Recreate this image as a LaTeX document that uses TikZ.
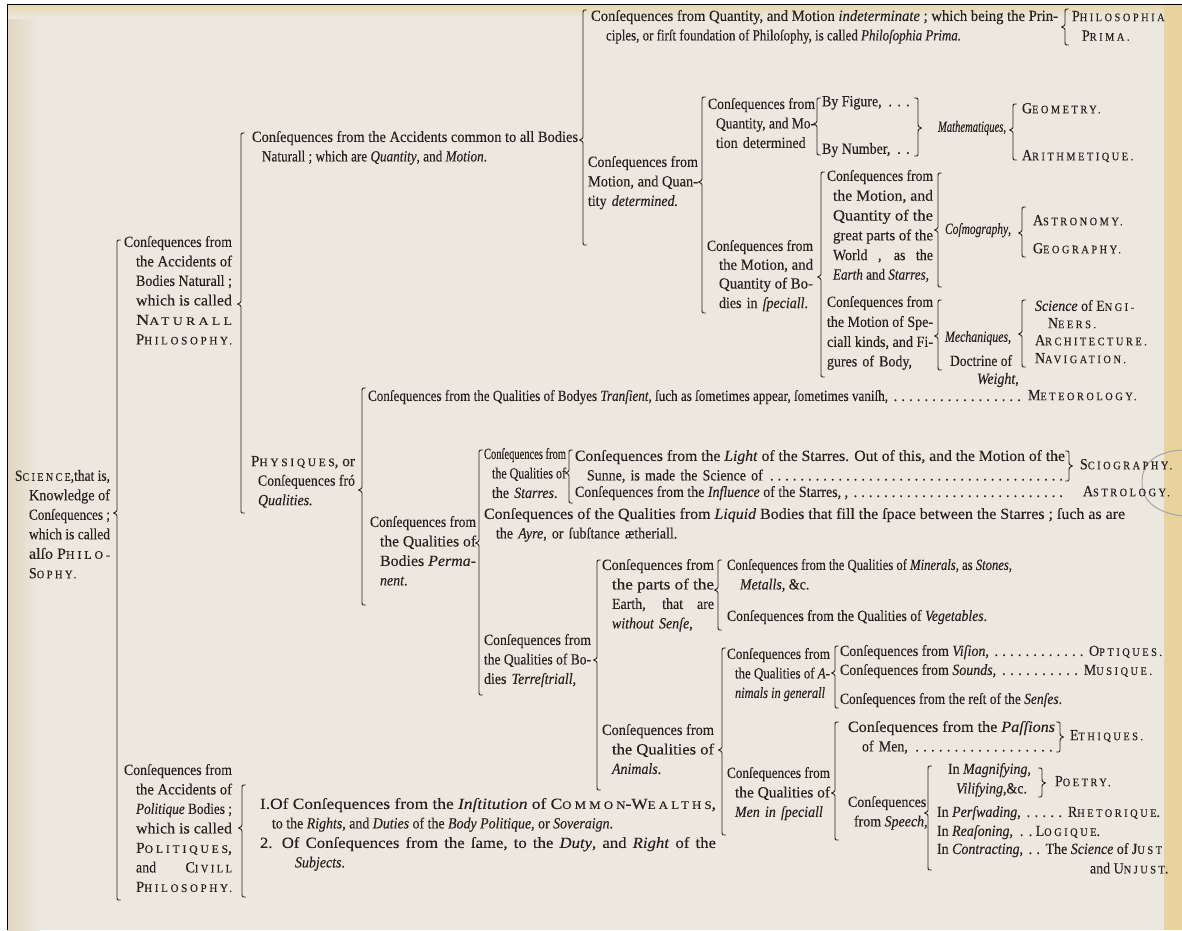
\documentclass[tikz,border=0pt]{standalone}
\usepackage{fontspec}
\setmainfont{Liberation Serif}[FakeStretch=0.9,FakeBold=0.2]
\usepackage{graphicx}
\definecolor{ink}{HTML}{26211D}
\definecolor{paper}{HTML}{ECE8E0}
\definecolor{card}{HTML}{E8D29E}
\definecolor{edge}{HTML}{E1D6C2}
\newcommand\body{\fontsize{15.5}{19.5}\selectfont}
\newcommand\sca[2]{#1{\fontsize{11.5}{12}\selectfont\addfontfeatures{LetterSpace=22}#2}}
\newsavebox\lnbox
\newdimen\lnlim
\newcommand\fitto[2]{\sbox\lnbox{\spaceskip=0pt\xspaceskip=0pt #2}\lnlim=#1\relax\lnlim=0.8\lnlim\ifdim\wd\lnbox>\lnlim\resizebox{#1}{\height}{\usebox\lnbox}\else\makebox[#1][s]{\spaceskip=0pt\xspaceskip=0pt #2}\fi}
\newcommand\F[1]{\fitto{\hsize}{#1}}
\newcommand\RJ[3]{\hspace*{#1}\fitto{#2}{#3}}
\newcommand\RW[3]{\hspace*{#1}\resizebox{#2}{\height}{#3}}
\newcommand\Lf[2]{\hspace*{#1}\mbox{#2}}
\newcommand\W[2]{\resizebox{#1}{\height}{#2}}
\newcommand\dts{\xleaders\hbox to 7.5pt{\hss.\hss}\hfill}
\newcommand\LB[4]{\draw[brc] (#1+3.5,#2) .. controls (#1,#2) .. (#1,#2+4) -- (#1,#3-5) .. controls (#1,#3-1.5) .. (#1-3.5,#3) .. controls (#1,#3+1.5) .. (#1,#3+5) -- (#1,#4-4) .. controls (#1,#4) .. (#1+3.5,#4);}
\newcommand\RB[4]{\draw[brc] (#1-3.5,#2) .. controls (#1,#2) .. (#1,#2+4) -- (#1,#3-5) .. controls (#1,#3-1.5) .. (#1+3.5,#3) .. controls (#1,#3+1.5) .. (#1,#3+5) -- (#1,#4-4) .. controls (#1,#4) .. (#1-3.5,#4);}
\tikzset{
  tx/.style={anchor=north west, inner sep=0pt, outer sep=0pt, text=ink, font=\body, align=left},
  bx/.style={tx, text width=#1},
  brc/.style={draw=ink, line width=0.9pt, line cap=round, line join=round},
}
\begin{document}
\begin{tikzpicture}[x=1pt,y=-1pt]
\useasboundingbox (0,0) rectangle (1182,930);
% paper
\fill[white] (0,0) rectangle (1182,930);
\fill[paper] (8,4) rectangle (1182,930);
\shade[left color=edge, right color=paper] (8,4) rectangle (40,930);
\shade[top color=card!80!paper, bottom color=paper] (8,4) rectangle (1182,18);
\fill[card] (1164,4) rectangle (1182,930);
\draw[gray!70, line width=1pt] (1182,450) .. controls (1154,452) and (1142,464) .. (1142,482) .. controls (1142,500) and (1154,512) .. (1182,516);
\draw[black, line width=1.6pt] (7.5,930) -- (7.5,4.5) -- (1182,4.5);

% ---------- root
\node[bx=95pt] (root) at (15,470) {\F{\sca{S}{CIENCE},that is,}\\ \RJ{14pt}{81pt}{Knowledge of}\\ \RJ{14pt}{81pt}{Conſequences ;}\\ \RJ{14pt}{81pt}{which is called}\\ \RJ{14pt}{81pt}{alſo \sca{P}{HILO-}}\\ \Lf{14pt}{\sca{S}{OPHY.}}};
\LB{117}{240}{513}{900}

% ---------- natural philosophy
\node[bx=108pt] (nat) at (124,236) {\F{Conſequences from}\\ \RJ{12pt}{96pt}{the Accidents of}\\ \RJ{12pt}{96pt}{Bodies Naturall ;}\\ \RJ{12pt}{96pt}{which is called}\\ \RW{12pt}{96pt}{\sca{N}{ATURALL}}\\ \RW{12pt}{96pt}{\sca{P}{HILOSOPHY.}}};
\LB{241}{133}{304}{513}

\node[bx=326pt] (acc) at (252,131) {\F{Conſequences from the Accidents common to all Bodies}\\ \RJ{10pt}{225pt}{Naturall ; which are \textit{Quantity}, and \textit{Motion}.}};
\LB{583}{10}{140}{245}

\node[bx=467pt] (indet) at (591,10) {\F{Conſequences from Quantity, and Motion \textit{indeterminate} ; which being the Prin-}\\ \RJ{15pt}{355pt}{ciples, or firſt foundation of Philoſophy, is called \textit{Philoſophia Prima.}}};
\LB{1065}{9}{27}{45}
\node[tx] (prima) at (1072,11) {\sca{P}{HILOSOPHIA}\\ \hspace*{10pt}\sca{P}{RIMA.}};

\node[bx=110pt] (det) at (588,156) {\F{Conſequences from}\\ \RJ{0pt}{110pt}{Motion, and Quan-}\\ \Lf{0pt}{tity \textit{determined.}}};
\LB{702}{97}{182}{313}

\node[bx=107pt] (math) at (708,98) {\F{Conſequences from}\\ \RJ{8pt}{99pt}{Quantity, and Mo-}\\ \Lf{8pt}{tion determined}};
\LB{817}{98}{124}{155}
\node[tx] (fig) at (822,96) {\makebox[91pt][s]{By Figure,\ \dts}};
\node[tx] (num) at (822,143) {\makebox[91pt][s]{By Number,\ \dts}};
\RB{918}{98}{128}{156}
\node[tx] (mathq) at (938,121) {\W{68pt}{\textit{Mathematiques},}};
\LB{1013}{104}{130}{160}
\node[tx] (geom) at (1022,103) {\sca{G}{EOMETRY.}};
\node[tx] (arith) at (1022,150) {\sca{A}{RITHMETIQUE.}};

\node[bx=106pt] (spec) at (707,240) {\fontsize{15.5}{18.8}\selectfont\F{Conſequences from}\\ \RJ{12pt}{94pt}{the Motion, and}\\ \RJ{12pt}{94pt}{Quantity of Bo-}\\ \Lf{12pt}{dies in \textit{ſpeciall}.}};
\LB{821}{172}{277}{377}

\node[bx=106pt] (cosmo) at (827,170) {\fontsize{15.5}{19.8}\selectfont\F{Conſequences from}\\ \RJ{6pt}{100pt}{the Motion, and}\\ \RJ{6pt}{100pt}{Quantity of the}\\ \RJ{6pt}{100pt}{great parts of the}\\ \RJ{6pt}{100pt}{World , as the}\\ \RJ{6pt}{96pt}{\textit{Earth} and \textit{Starres},}};
\LB{938}{173}{230}{287}
\node[tx] (cosmg) at (945,223) {\W{66pt}{\textit{Coſmography},}};
\LB{1022}{207}{233}{257}
\node[tx] (astron) at (1033,215) {\sca{A}{STRONOMY.}};
\node[tx] (geog) at (1033,243) {\sca{G}{EOGRAPHY.}};

\node[bx=106pt] (mech) at (827,296) {\fontsize{15.5}{20}\selectfont\F{Conſequences from}\\ \RJ{0pt}{106pt}{the Motion of Spe-}\\ \RJ{0pt}{106pt}{ciall kinds, and Fi-}\\ \Lf{0pt}{gures of Body,}};
\LB{938}{300}{336}{370}
\node[tx] (mechq) at (945,331) {\W{66pt}{\textit{Mechaniques},}};
\node[tx] (doct) at (950,355) {\W{62pt}{Doctrine of}};
\node[tx] (weight) at (977,373) {\textit{Weight},};
\LB{1022}{300}{334}{367}
\node[tx] (engi) at (1035,300) {\textit{Science} of \sca{E}{NGI-}};
\node[tx] (neers) at (1048,318) {\sca{N}{EERS.}};
\node[tx] (archi) at (1035,335) {\sca{A}{RCHITECTURE.}};
\node[tx] (navig) at (1035,353) {\sca{N}{AVIGATION.}};

% ---------- physiques
\node[bx=104pt] (phys) at (251,456) {\F{\sca{P}{HYSIQUES}, or}\\ \RJ{7pt}{97pt}{Conſequences fró}\\ \Lf{7pt}{\textit{Qualities.}}};
\LB{362}{388}{490}{605}

\node[tx] (trans) at (368,390) {\W{520pt}{Conſequences from the Qualities of Bodyes \textit{Tranſient}, ſuch as ſometimes appear, ſometimes vaniſh,}\makebox[135pt][s]{\ \dts}};
\node[tx] (meteor) at (1028,390) {\sca{M}{ETEOROLOGY.}};

\node[bx=106pt] (perm) at (370,516) {\F{Conſequences from}\\ \RJ{10pt}{96pt}{the Qualities of}\\ \RJ{10pt}{96pt}{Bodies \textit{Perma-}}\\ \Lf{10pt}{\textit{nent}.}};
\LB{479}{450}{543}{695}

\node[bx=82pt] (starres) at (484,448) {\F{Conſequences from}\\ \RJ{8pt}{74pt}{the Qualities of}\\ \Lf{8pt}{the \textit{Starres}.}};
\LB{569}{450}{473}{503}
\node[bx=490pt] (light) at (575,450) {\F{Conſequences from the \textit{Light} of the Starres. Out of this, and the Motion of the}\\ \hspace*{12pt}\makebox[478pt][s]{Sunne, is made the Science of\ \dts}};
\RB{1069}{451}{466}{481}
\node[tx] (sciog) at (1080,459) {\sca{S}{CIOGRAPHY.}};
\node[tx] (influ) at (575,486) {\makebox[490pt][s]{Conſequences from the \textit{Influence} of the Starres, ,\ \dts}};
\node[tx] (astrol) at (1083,486) {\sca{A}{STROLOGY.}};

\node[bx=641pt] (liquid) at (484,508) {\F{Conſequences of the Qualities from \textit{Liquid} Bodies that fill the ſpace between the Starres ; ſuch as are}\\ \Lf{12pt}{the \textit{Ayre}, or ſubſtance ætheriall.}};

\node[bx=107pt] (terr) at (484,634) {\F{Conſequences from}\\ \RJ{0pt}{107pt}{the Qualities of Bo-}\\ \Lf{0pt}{dies \textit{Terreſtriall},}};
\LB{597}{560}{660}{790}

\node[bx=112pt] (sense) at (602,559) {\F{Conſequences from}\\ \RJ{10pt}{102pt}{the parts of the}\\ \RJ{10pt}{102pt}{Earth, that are}\\ \Lf{10pt}{\textit{without Senſe},}};
\LB{718}{560}{590}{630}
\node[tx] (miner) at (727,559) {\W{285pt}{Conſequences from the Qualities of \textit{Minerals}, as \textit{Stones},}\\ \hspace*{13pt}\textit{Metalls}, \&c.};
\node[tx] (veget) at (727,610) {\W{260pt}{Conſequences from the Qualities of \textit{Vegetables}.}};

\node[bx=112pt] (anim) at (602,724) {\F{Conſequences from}\\ \RJ{10pt}{102pt}{the Qualities of}\\ \Lf{10pt}{\textit{Animals}.}};
\LB{722}{648}{750}{835}

\node[bx=103pt] (gen) at (727,648) {\F{Conſequences from}\\ \RJ{8pt}{95pt}{the Qualities of \textit{A}-}\\ \RJ{8pt}{90pt}{\textit{nimals in generall}}};
\LB{835}{646}{673}{708}
\node[tx] (vision) at (840,645) {\makebox[322pt][s]{Conſequences from \textit{Viſion},\ \dts\ \sca{O}{PTIQUES.}}};
\node[tx] (sound) at (840,664) {\makebox[312pt][s]{Conſequences from \textit{Sounds},\ \dts\ \sca{M}{USIQUE.}}};
\node[tx] (rest) at (840,693) {\W{222pt}{Conſequences from the reſt of the \textit{Senſes}.}};

\node[bx=103pt] (men) at (727,767) {\F{Conſequences from}\\ \RJ{8pt}{95pt}{the Qualities of}\\ \Lf{8pt}{\textit{Men in ſpeciall}}};
\LB{835}{722}{793}{840}
\node[bx=207pt] (pass) at (848,721) {\F{Conſequences from the \textit{Paſſions}}\\ \hspace*{14pt}\makebox[193pt][s]{of Men,\ \dts}};
\RB{1060}{722}{737}{752}
\node[tx] (ethiq) at (1070,730) {\sca{E}{THIQUES.}};

\node[tx] (speech) at (848,796) {Conſequences\\ \hspace*{6pt}from \textit{Speech},};
\LB{928}{766}{813}{870}
\node[tx] (magn) at (948,763) {\fontsize{15.5}{16}\selectfont In \textit{Magnifying},\\ \hspace*{8pt}\textit{Vilifying},\&c.};
\RB{1042}{768}{783}{797}
\node[tx] (poetry) at (1055,776) {\sca{P}{OETRY.}};
\node[tx] (persw) at (937,806) {\makebox[223pt][s]{In \textit{Perſwading},\ \dts\ \sca{R}{HETORIQUE}.}};
\node[tx] (reas) at (937,825) {\makebox[163pt][s]{In \textit{Reaſoning},\ \dts\sca{L}{OGIQUE}.}};
\node[tx] (contr) at (937,843) {\fontsize{15.5}{17}\selectfont\makebox[225pt][s]{In \textit{Contracting},\ \dts\ The \textit{Science} of \sca{J}{UST}}\\ \hspace*{153pt}and \sca{U}{NJUST}.};

% ---------- politiques
\node[bx=108pt] (pol) at (124,764) {\F{Conſequences from}\\ \RJ{12pt}{96pt}{the Accidents of}\\ \RJ{12pt}{96pt}{\textit{Politique} Bodies ;}\\ \RJ{12pt}{96pt}{which is called}\\ \RW{12pt}{96pt}{\sca{P}{OLITIQUES},}\\ \RJ{12pt}{96pt}{and \sca{C}{IVILL}}\\ \RW{12pt}{96pt}{\sca{P}{HILOSOPHY.}}};
\LB{242}{785}{828}{897}
\node[bx=456pt] (civil) at (260,798) {\F{I.Of Conſequences from the \textit{Inſtitution} of \sca{C}{OMMON}-\sca{W}{EALTHS},}\\ \RJ{12pt}{341pt}{to the \textit{Rights}, and \textit{Duties} of the \textit{Body Politique}, or \textit{Soveraign}.}\\ \RW{0pt}{456pt}{2. Of Conſequences from the ſame, to the \textit{Duty}, and \textit{Right} of the}\\ \Lf{35pt}{\textit{Subjects}.}};
\end{tikzpicture}
\end{document}
